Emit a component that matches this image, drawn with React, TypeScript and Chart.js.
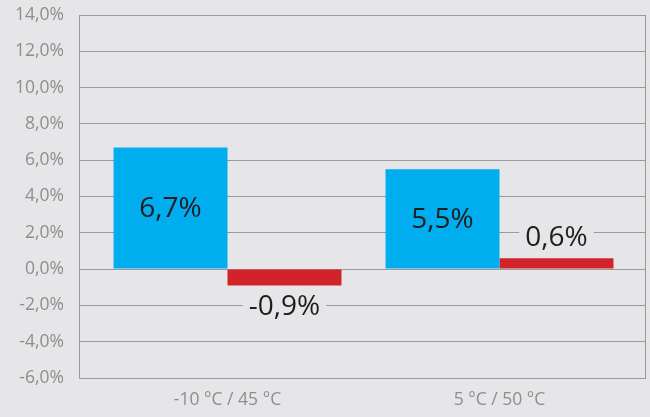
import React, { useEffect, useRef } from "react";
import { Chart, registerables } from "chart.js";

Chart.register(...registerables);

const categories = ["-10 °C / 45 °C", "5 °C / 50 °C"];
const seriesBlue = [6.7, 5.5];
const seriesRed = [-0.9, 0.6];
const yMin = -6;
const yMax = 14;
const yStep = 2;

const BG = "#e6e6e8";
const GRID = "#9b9b9b";
const TICK = "#8e8e8e";
const BLUE = "#00adef";
const RED = "#d2232a";

const fmt = (v: number) => v.toFixed(1).replace(".", ",") + "%";

const bgPlugin = {
  id: "bgPlugin",
  beforeDraw(chart: any) {
    const { ctx, width, height } = chart;
    ctx.save();
    ctx.fillStyle = BG;
    ctx.fillRect(0, 0, width, height);
    ctx.restore();
  },
  afterDatasetsDraw(chart: any) {
    const { ctx, chartArea } = chart;
    ctx.save();
    ctx.strokeStyle = GRID;
    ctx.lineWidth = 1;
    const xr = Math.round(chartArea.right) - 0.5;
    ctx.beginPath();
    ctx.moveTo(xr, chartArea.top);
    ctx.lineTo(xr, chartArea.bottom);
    ctx.stroke();

    ctx.font = "28px 'Open Sans'";
    ctx.textAlign = "center";
    ctx.textBaseline = "middle";
    chart.data.datasets.forEach((ds: any, di: number) => {
      const meta = chart.getDatasetMeta(di);
      meta.data.forEach((el: any, i: number) => {
        const v = ds.data[i].y;
        const text = fmt(v);
        const x = el.x;
        let y: number;
        if (di === 0) {
          y = (el.y + el.base) / 2;
        } else {
          y = v < 0 ? el.y + 20.5 : el.y - 21;
          const w = ctx.measureText(text).width + 12;
          ctx.fillStyle = BG;
          ctx.fillRect(x - w / 2, y - 12, w, 24);
        }
        ctx.fillStyle = "#1e1e1e";
        ctx.fillText(text, x, y + 1);
      });
    });
    ctx.restore();
  },
};

export default function App() {
  const ref = useRef<HTMLCanvasElement>(null);
  useEffect(() => {
    document.body.style.margin = "0";
    document.body.style.background = BG;
    const chart = new Chart(ref.current as HTMLCanvasElement, {
      type: "bar",
      data: {
        datasets: [
          {
            data: seriesBlue.map((y, i) => ({ x: i, y })),
            backgroundColor: BLUE,
            borderWidth: 0,
          },
          {
            data: seriesRed.map((y, i) => ({ x: i, y })),
            backgroundColor: RED,
            borderWidth: 0,
          },
        ],
      },
      options: {
        animation: false,
        responsive: true,
        maintainAspectRatio: false,
        layout: { padding: { top: 15, right: 4, left: 0, bottom: 0 } },
        plugins: {
          legend: { display: false },
          tooltip: { enabled: false },
        },
        datasets: {
          bar: { categoryPercentage: 0.838, barPercentage: 1 },
        },
        scales: {
          x: {
            type: "linear",
            offset: false,
            bounds: "data",
            min: -0.546,
            max: 1.5386,
            afterBuildTicks: (scale: any) => {
              scale.ticks = categories.map((_, i) => ({ value: i }));
            },
            afterFit: (scale: any) => {
              scale.height = 39;
              scale.paddingLeft = 0;
              scale.paddingRight = 0;
            },
            grid: { display: false, drawTicks: false, offset: false },
            border: { display: false },
            ticks: {
              padding: 12,
              color: TICK,
              font: { family: "'Open Sans'", size: 17.5 },
              callback: (v: any) => categories[Math.round(Number(v))] ?? "",
              autoSkip: false,
              maxRotation: 0,
            },
          },
          y: {
            min: yMin,
            max: yMax,
            afterFit: (scale: any) => {
              scale.width = 79;
              scale.paddingTop = 0;
              scale.paddingBottom = 0;
            },
            grid: { color: GRID, lineWidth: 1, drawTicks: false },
            border: { display: true, color: GRID, width: 1 },
            ticks: {
              stepSize: yStep,
              padding: 15,
              color: TICK,
              font: { family: "'Open Sans'", size: 17.5 },
              callback: (v: any) => fmt(Number(v)),
            },
          },
        },
      },
      plugins: [bgPlugin],
    } as any);
    return () => chart.destroy();
  }, []);
  return (
    <div style={{ width: 650, height: 417, position: "relative" }}>
      <canvas ref={ref} />
    </div>
  );
}
